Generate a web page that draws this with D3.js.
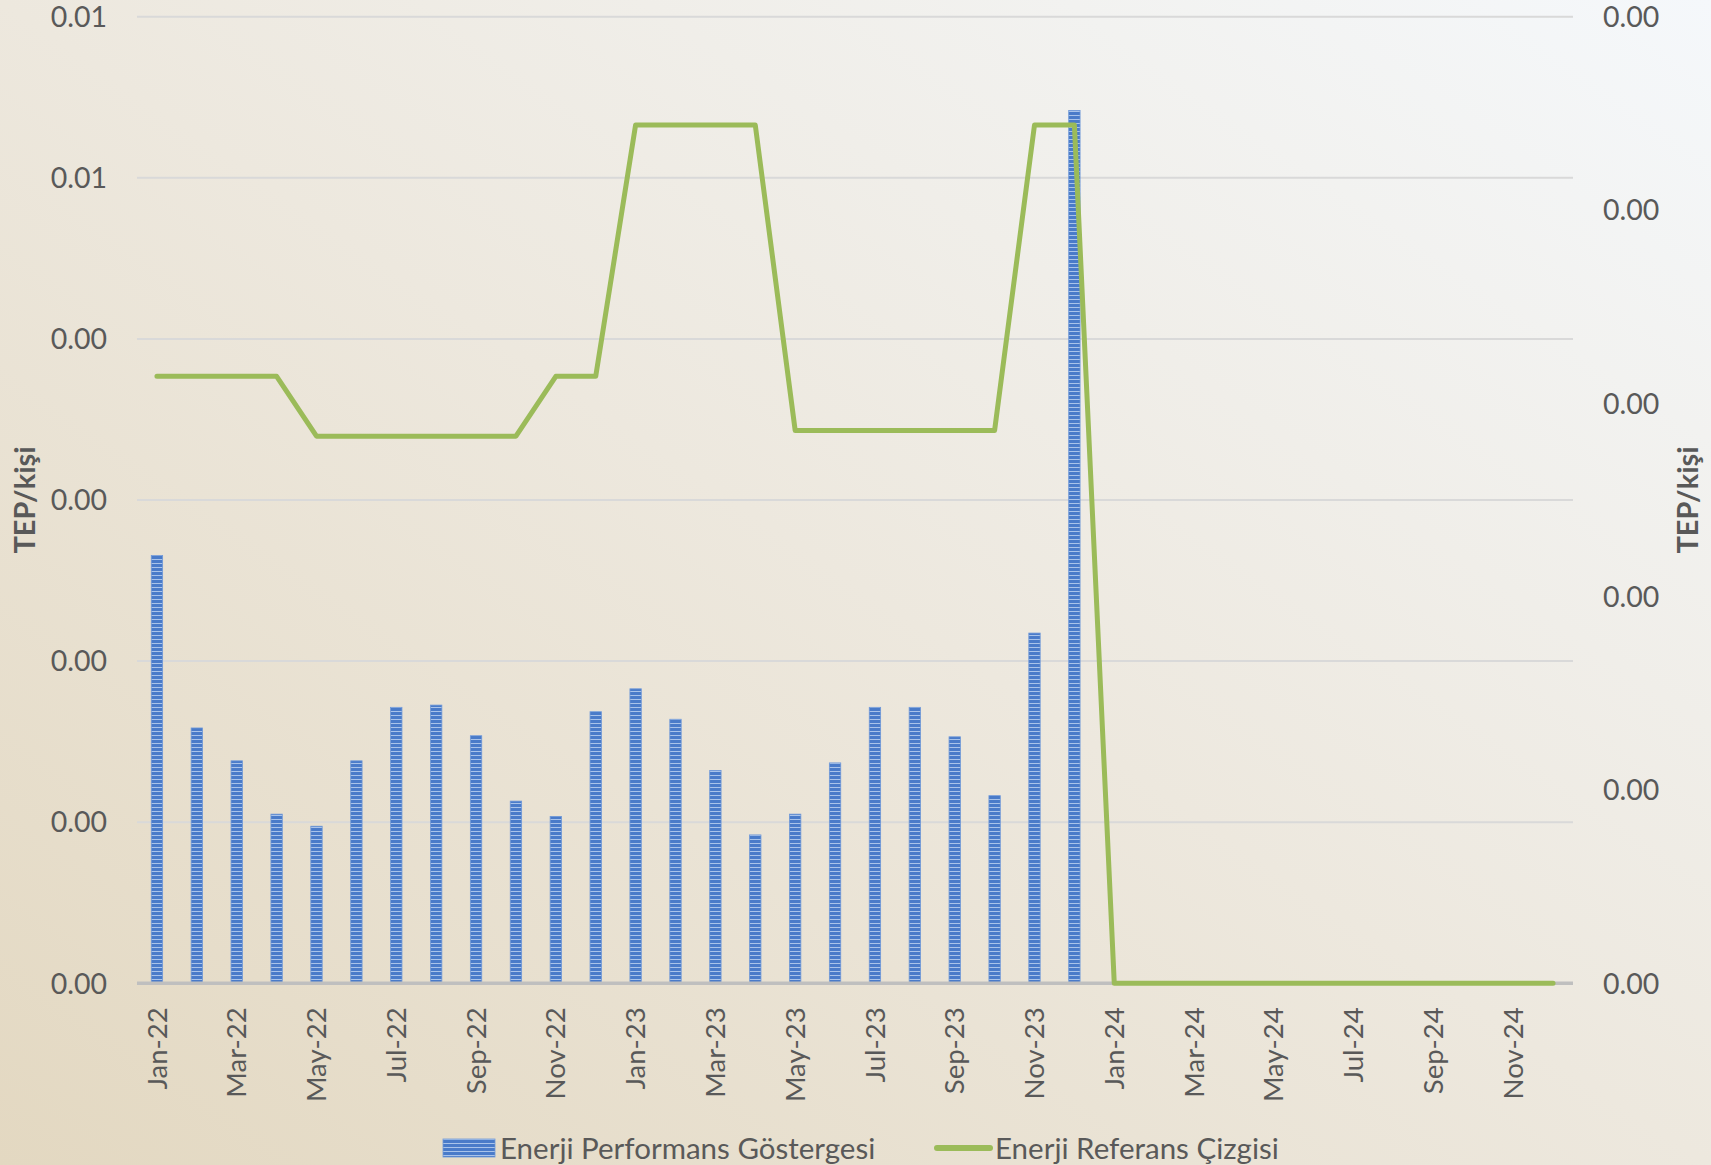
<!DOCTYPE html>
<html>
<head>
<meta charset="utf-8">
<script src="https://cdn.jsdelivr.net/npm/d3@7"></script>
<style>
  html, body { margin: 0; padding: 0; }
  body { width: 1711px; height: 1165px; overflow: hidden; }
  svg { display: block; font-family: Lato, "Open Sans", sans-serif; }
</style>
</head>
<body>
<svg id="chart" width="1711" height="1165"></svg>
<script>
// ---- Data ----
const months = [
  "Jan-22","Feb-22","Mar-22","Apr-22","May-22","Jun-22","Jul-22","Aug-22","Sep-22","Oct-22","Nov-22","Dec-22",
  "Jan-23","Feb-23","Mar-23","Apr-23","May-23","Jun-23","Jul-23","Aug-23","Sep-23","Oct-23","Nov-23","Dec-23",
  "Jan-24","Feb-24","Mar-24","Apr-24","May-24","Jun-24","Jul-24","Aug-24","Sep-24","Oct-24","Nov-24","Dec-24"
];
// Enerji Performans Göstergesi (left axis, TEP/kişi)
const performance = [
  0.002655, 0.001585, 0.001381, 0.001050, 0.000975, 0.001381, 0.001713, 0.001727, 0.001537, 0.001131, 0.001036, 0.001686,
  0.001828, 0.001639, 0.001321, 0.000921, 0.001050, 0.001368, 0.001713, 0.001713, 0.001530, 0.001165, 0.002174, 0.005418,
  0, 0, 0, 0, 0, 0, 0, 0, 0, 0, 0, 0
];
// Enerji Referans Çizgisi (right axis, TEP/kişi)
const reference = [
  0.000314, 0.000314, 0.000314, 0.000314, 0.000283, 0.000283, 0.000283, 0.000283, 0.000283, 0.000283, 0.000314, 0.000314,
  0.000444, 0.000444, 0.000444, 0.000444, 0.000286, 0.000286, 0.000286, 0.000286, 0.000286, 0.000286, 0.000444, 0.000444,
  0, 0, 0, 0, 0, 0, 0, 0, 0, 0, 0, 0
];
const leftTicks = [0, 0.001, 0.002, 0.003, 0.004, 0.005, 0.006];
const leftTickLabels = ["0.00","0.00","0.00","0.00","0.00","0.01","0.01"];
const rightTicks = [0, 0.0001, 0.0002, 0.0003, 0.0004, 0.0005];
const rightTickLabels = ["0.00","0.00","0.00","0.00","0.00","0.00"];
const xTickLabels = months.filter((d, i) => i % 2 === 0);
const seriesNames = ["Enerji Performans Göstergesi", "Enerji Referans Çizgisi"];
const axisTitle = "TEP/kişi";

// ---- Layout ----
const W = 1711, H = 1165;
const plot = { left: 137, right: 1573, top: 16.7, bottom: 983.3 };
const textColor = "#595959";

const svg = d3.select("#chart");
const defs = svg.append("defs");

const bg = defs.append("linearGradient").attr("id", "bg")
  .attr("x1", 0).attr("y1", 1).attr("x2", 1).attr("y2", 0);
bg.append("stop").attr("offset", 0).attr("stop-color", "#E3D8C1");
bg.append("stop").attr("offset", 0.5).attr("stop-color", "#EDE8DE");
bg.append("stop").attr("offset", 1).attr("stop-color", "#F5F8FB");

const pat = defs.append("pattern").attr("id", "stripes")
  .attr("patternUnits", "userSpaceOnUse").attr("width", 8).attr("height", 4);
pat.append("rect").attr("width", 8).attr("height", 4).attr("fill", "#4A7BC9");
pat.append("rect").attr("y", 3).attr("width", 8).attr("height", 1).attr("fill", "#A9C3EA");

svg.append("rect").attr("width", W).attr("height", H).attr("fill", "url(#bg)");

// ---- Scales ----
const x = d3.scaleBand().domain(months).range([plot.left, plot.right])
  .paddingInner(0.715).paddingOuter(0.3575);
const yL = d3.scaleLinear().domain([0, 0.006]).range([plot.bottom, plot.top]);
const yR = d3.scaleLinear().domain([0, 0.0005]).range([plot.bottom, plot.top]);
const cx = d => x(d) + x.bandwidth() / 2;

// ---- Gridlines ----
svg.append("g").selectAll("line").data(leftTicks.slice(1)).join("line")
  .attr("x1", plot.left).attr("x2", plot.right)
  .attr("y1", d => yL(d)).attr("y2", d => yL(d))
  .attr("stroke", "#D9D9D9").attr("stroke-width", 2);

// ---- Bars ----
svg.append("g").selectAll("rect").data(months).join("rect")
  .attr("x", d => x(d))
  .attr("width", x.bandwidth())
  .attr("y", (d, i) => yL(performance[i]))
  .attr("height", (d, i) => yL(0) - yL(performance[i]))
  .attr("fill", "url(#stripes)")
  .attr("stroke", "#6F98D8").attr("stroke-width", 0.8);

// ---- Baseline axis ----
svg.append("line")
  .attr("x1", plot.left).attr("x2", plot.right)
  .attr("y1", yL(0)).attr("y2", yL(0))
  .attr("stroke", "#BFBFBF").attr("stroke-width", 3.5);

// ---- Reference line ----
const line = d3.line().x((d, i) => cx(months[i])).y(d => yR(d)).curve(d3.curveLinear);
svg.append("path").datum(reference)
  .attr("d", line)
  .attr("fill", "none").attr("stroke", "#9BBB59")
  .attr("stroke-width", 5).attr("stroke-linejoin", "round").attr("stroke-linecap", "round");

// ---- Left axis labels ----
const leftAxis = d3.axisLeft(yL).tickValues(leftTicks)
  .tickFormat((d, i) => leftTickLabels[i]).tickSize(0).tickPadding(0);
const gL = svg.append("g").attr("transform", `translate(107,0)`).call(leftAxis);
gL.select(".domain").remove();
gL.selectAll("text").attr("fill", textColor).attr("font-size", 28.5)
  .attr("font-family", "Lato, sans-serif").attr("dy", "0.34em");

// ---- Right axis labels ----
const rightAxis = d3.axisRight(yR).tickValues(rightTicks)
  .tickFormat((d, i) => rightTickLabels[i]).tickSize(0).tickPadding(0);
const gR = svg.append("g").attr("transform", `translate(1603,0)`).call(rightAxis);
gR.select(".domain").remove();
gR.selectAll("text").attr("fill", textColor).attr("font-size", 28.5)
  .attr("font-family", "Lato, sans-serif").attr("dy", "0.34em");

// ---- X axis labels ----
const xAxis = d3.axisBottom(x).tickValues(xTickLabels).tickSize(0).tickPadding(0);
const gX = svg.append("g").attr("transform", `translate(0,${plot.bottom})`).call(xAxis);
gX.select(".domain").remove();
gX.selectAll("text")
  .attr("fill", textColor).attr("font-size", 27.5).attr("font-family", "Lato, sans-serif")
  .attr("text-anchor", "end")
  .attr("transform", "rotate(-90)")
  .attr("x", -24).attr("y", 0).attr("dy", "0.35em");

// ---- Axis titles ----
svg.append("text").text(axisTitle)
  .attr("transform", `translate(25,500) rotate(-90)`)
  .attr("text-anchor", "middle").attr("dy", "0.35em")
  .attr("font-size", 29).attr("font-weight", "bold").attr("fill", textColor);
svg.append("text").text(axisTitle)
  .attr("transform", `translate(1688,500) rotate(-90)`)
  .attr("text-anchor", "middle").attr("dy", "0.35em")
  .attr("font-size", 29).attr("font-weight", "bold").attr("fill", textColor);

// ---- Legend ----
const lg = svg.append("g");
lg.append("rect").attr("x", 443).attr("y", 1139).attr("width", 52).attr("height", 18)
  .attr("fill", "url(#stripes)").attr("stroke", "#6F98D8").attr("stroke-width", 0.8);
lg.append("text").text(seriesNames[0]).attr("x", 500).attr("y", 1159)
  .attr("font-size", 29.5).attr("fill", textColor);
lg.append("line").attr("x1", 937).attr("x2", 990).attr("y1", 1148).attr("y2", 1148)
  .attr("stroke", "#9BBB59").attr("stroke-width", 6).attr("stroke-linecap", "round");
lg.append("text").text(seriesNames[1]).attr("x", 995).attr("y", 1159)
  .attr("font-size", 29.5).attr("fill", textColor);
</script>
</body>
</html>
